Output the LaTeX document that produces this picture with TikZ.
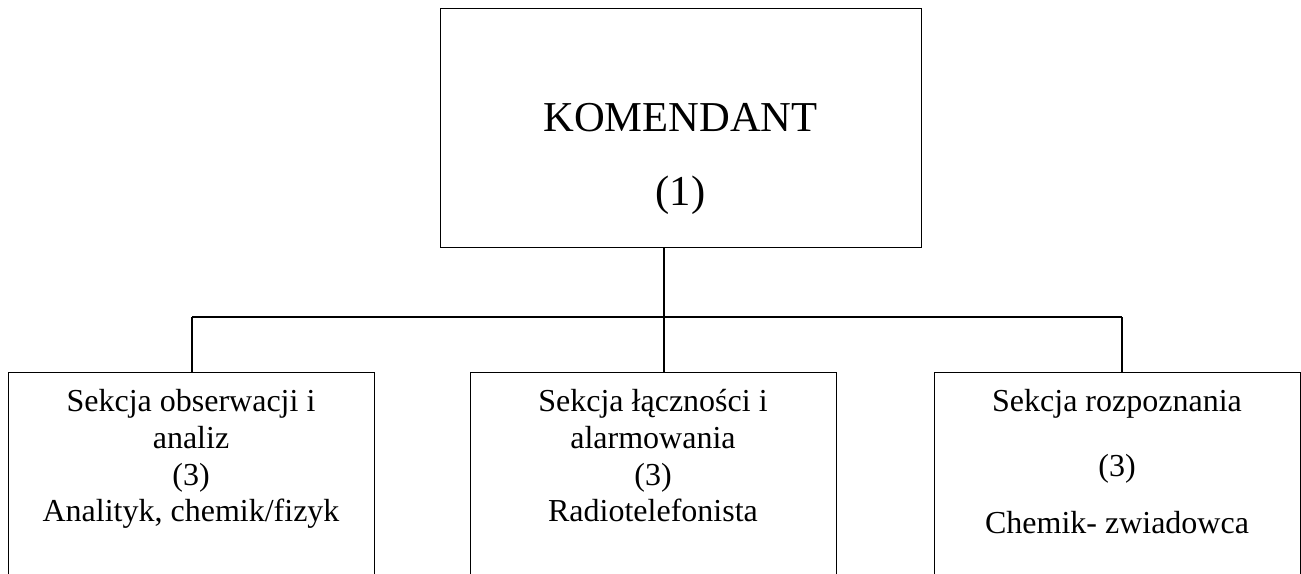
\documentclass[tikz,border=0pt]{standalone}
\usepackage{fontspec}
\setmainfont{Liberation Serif}
\begin{document}
\begin{tikzpicture}[x=0.5pt,y=-0.5pt,line width=0.65pt]
\tikzset{
  box/.style={draw=black,rectangle,inner sep=0pt,anchor=north west},
  subtxt/.style={anchor=base,inner sep=0pt,font=\fontsize{16}{18}\selectfont},
  toptxt/.style={anchor=base,inner sep=0pt,font=\fontsize{21.3}{24}\selectfont},
}
\useasboundingbox (0,0) rectangle (1301,573);
\clip (0,0) rectangle (1301,573);
\fill[white] (0,0) rectangle (1301,573);
% boxes
\node[box,minimum width=240.5pt,minimum height=119.75pt] (top) at (440,7.5) {};
\node[box,minimum width=183pt,minimum height=140pt] (left) at (8,372) {};
\node[box,minimum width=183pt,minimum height=140pt] (mid) at (470,372) {};
\node[box,minimum width=183pt,minimum height=140pt] (right) at (934,372) {};
% texts
\node[toptxt] (t1) at (680.5,131.7) {KOMENDANT};
\node[toptxt] (t2) at (680.5,205) {(1)};
\node[subtxt] (l1) at (191,411.7) {Sekcja obserwacji i};
\node[subtxt] (l2) at (191,448.3) {analiz};
\node[subtxt] (l3) at (191,485) {(3)};
\node[subtxt] (l4) at (191,521.7) {Analityk, chemik/fizyk};
\node[subtxt] (m1) at (653,411.7) {Sekcja łączności i};
\node[subtxt] (m2) at (653,448.3) {alarmowania};
\node[subtxt] (m3) at (653,485) {(3)};
\node[subtxt] (m4) at (653,521.7) {Radiotelefonista};
\node[subtxt] (r1) at (1117,411.7) {Sekcja rozpoznania};
\node[subtxt] (r2) at (1117,476) {(3)};
\node[subtxt] (r3) at (1117,533) {Chemik- zwiadowca};
% connectors
\coordinate (j) at (664,317);
\coordinate (bl) at (192,317);
\coordinate (br) at (1122,317);
\draw (j |- top.south) -- (j |- mid.north);
\draw (bl) -- (br);
\draw (bl) -- (bl |- left.north);
\draw (br) -- (br |- right.north);
\end{tikzpicture}
\end{document}
